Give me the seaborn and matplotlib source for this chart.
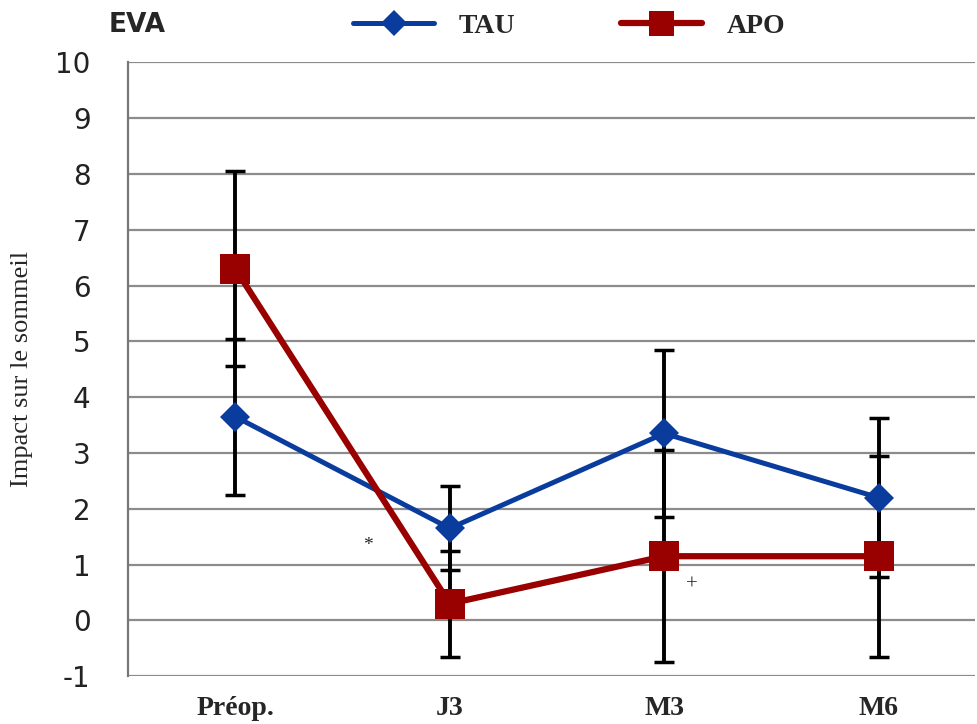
import seaborn as sns
import matplotlib.pyplot as plt
import pandas as pd
from matplotlib.lines import Line2D

categories = ['Préop.', 'J3', 'M3', 'M6']
tau_mean = [3.65, 1.65, 3.35, 2.2]
tau_sd = [1.4, 0.75, 1.5, 1.42]
apo_mean = [6.3, 0.3, 1.15, 1.15]
apo_sd = [1.75, 0.95, 1.9, 1.8]

sns.set_style('white')
plt.rcParams['font.family'] = ['DejaVu Sans']
plt.rcParams['axes.unicode_minus'] = False

df = pd.DataFrame({
    'x': list(range(4)) * 2,
    'val': tau_mean + apo_mean,
    'groupe': ['TAU'] * 4 + ['APO'] * 4,
})

fig = plt.figure(figsize=(9.78, 7.24), dpi=100)
ax = fig.add_axes([0.131, 0.066, 0.866, 0.848])

# error bars behind the series
for m, s in [(tau_mean, tau_sd), (apo_mean, apo_sd)]:
    ax.errorbar(range(4), m, yerr=s, fmt='none', ecolor='black',
                elinewidth=2.8, capsize=7, capthick=2.5, zorder=2)

sns.lineplot(data=df[df.groupe == 'TAU'], x='x', y='val', ax=ax, color='#0a3c9e',
             lw=3.6, marker='D', markersize=15, markeredgewidth=0, zorder=3)
sns.lineplot(data=df[df.groupe == 'APO'], x='x', y='val', ax=ax, color='#990000',
             lw=4.5, marker='s', markersize=22, markeredgewidth=0, zorder=4)

ax.set_xlim(-0.5, 3.45)
ax.set_ylim(-1, 10)
ax.set_yticks(range(-1, 11))
ax.set_xticks(range(4))
ax.set_xticklabels(categories, fontfamily='Liberation Serif', fontweight='bold', fontsize=20)
ax.tick_params(axis='x', length=0, pad=14)
ax.tick_params(axis='y', length=0, labelsize=20, pad=27, labelcolor='#222222')
ax.yaxis.grid(True, color='#8c8c8c', lw=1.6)
ax.set_axisbelow(True)
for side in ['top', 'right', 'bottom']:
    ax.spines[side].set_visible(False)
ax.spines['left'].set_color('#777777')
ax.spines['left'].set_linewidth(1.6)
ax.set_xlabel('')
ax.set_ylabel('Impact sur le sommeil', fontfamily='Liberation Serif', fontsize=19)
ax.yaxis.set_label_coords(-0.112, 0.5)

ax.text(0.62, 1.35, '*', fontsize=14, fontfamily='Liberation Serif', ha='center', va='center')
ax.text(2.13, 0.63, '+', fontsize=15, fontfamily='Liberation Serif', ha='center', va='center')

fig.text(0.140, 0.966, 'EVA', fontsize=19, fontweight='bold', ha='center', va='center')
handles = [
    Line2D([], [], color='#0a3c9e', lw=3.6, marker='D', markersize=13, markeredgewidth=0),
    Line2D([], [], color='#990000', lw=4.5, marker='s', markersize=18, markeredgewidth=0),
]
fig.legend(handles, ['TAU', 'APO'], loc='center', bbox_to_anchor=(0.582, 0.964), ncol=2,
           frameon=False, handlelength=2.9, columnspacing=3.8, handletextpad=0.9,
           prop={'family': 'Liberation Serif', 'size': 20, 'weight': 'bold'})

fig.savefig('out.png', dpi=100)
